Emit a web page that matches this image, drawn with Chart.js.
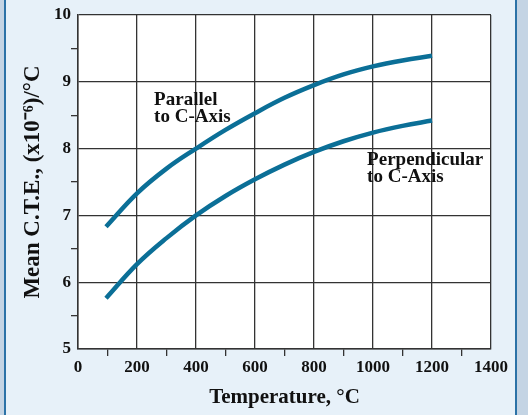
<!DOCTYPE html>
<html><head><meta charset="utf-8">
<script src="https://cdn.jsdelivr.net/npm/chart.js@4"></script>
<style>
html,body{margin:0;padding:0;width:528px;height:415px;overflow:hidden;background:#c4d4e4;}
#frame{position:absolute;left:4px;top:0;width:509px;height:415px;background:#e7f1f9;border-left:2px solid #2b72a7;border-right:2px solid #2b72a7;}
canvas{position:absolute;left:0;top:0;}
</style></head><body>
<div id="frame"></div>
<canvas id="c" width="528" height="415"></canvas>
<script>
// Data
const temperatures = [95, 200, 300, 400, 500, 600, 700, 800, 900, 1000, 1100, 1200];
const parallelCTE = [6.83, 7.33, 7.70, 8.00, 8.28, 8.53, 8.76, 8.95, 9.11, 9.23, 9.32, 9.39];
const perpendicularCTE = [5.76, 6.27, 6.66, 7.00, 7.29, 7.54, 7.76, 7.95, 8.11, 8.24, 8.34, 8.42];
const xTickLabels = [0, 200, 400, 600, 800, 1000, 1200, 1400];
const yTickLabels = [5, 6, 7, 8, 9, 10];
const seriesNames = ['Parallel to C-Axis', 'Perpendicular to C-Axis'];

const lineColor = '#0b6f97';
const gridColor = '#333333';
const serif = '"Liberation Serif", "Times New Roman", serif';

function pts(xs, ys) { return xs.map((x, i) => ({x: x, y: ys[i]})); }

const plotBg = {
  id: 'plotBg',
  beforeDraw(chart) {
    const {ctx, chartArea: a} = chart;
    ctx.save();
    ctx.fillStyle = '#ffffff';
    ctx.fillRect(a.left, a.top, a.right - a.left, a.bottom - a.top);
    ctx.restore();
  }
};

const labelsPlugin = {
  id: 'curveLabels',
  afterDatasetsDraw(chart, args, opts) {
    const {ctx, scales: {x, y}} = chart;
    ctx.save();
    ctx.fillStyle = '#111111';
    ctx.font = opts.font;
    ctx.textAlign = 'left';
    ctx.textBaseline = 'alphabetic';
    opts.items.forEach(it => {
      const px = x.getPixelForValue(it.x);
      const py = y.getPixelForValue(it.y);
      it.lines.forEach((t, i) => ctx.fillText(t, px, py + i * opts.lineHeight));
    });
    ctx.restore();
  }
};

new Chart(document.getElementById('c'), {
  type: 'line',
  data: {
    datasets: [
      {label: seriesNames[0], data: pts(temperatures, parallelCTE)},
      {label: seriesNames[1], data: pts(temperatures, perpendicularCTE)}
    ]
  },
  options: {
    responsive: false,
    devicePixelRatio: 1,
    animation: false,
    layout: {padding: {left: 0, top: 15, right: 37, bottom: 0}},
    elements: {
      line: {borderColor: lineColor, borderWidth: 4.5, tension: 0.4, fill: false, borderCapStyle: 'butt'},
      point: {radius: 0}
    },
    plugins: {
      legend: {display: false},
      tooltip: {enabled: false},
      curveLabels: {
        font: 'bold 19px ' + serif,
        lineHeight: 17,
        items: [
          {lines: ['Parallel', 'to C-Axis'], x: 258, y: 8.65},
          {lines: ['Perpendicular', 'to C-Axis'], x: 980, y: 7.75}
        ]
      }
    },
    scales: {
      x: {
        type: 'linear', min: 0, max: 1400,
        afterFit(s) { s.height = 66; },
        ticks: {
          stepSize: 100, autoSkip: false, maxRotation: 0, padding: 1,
          color: '#111111', font: {family: serif, size: 17, weight: 'bold'},
          callback: v => xTickLabels.includes(v) ? String(v) : ''
        },
        grid: {
          color: c => (c.tick && xTickLabels.includes(c.tick.value)) ? gridColor : 'rgba(0,0,0,0)',
          tickColor: c => (c.tick && xTickLabels.includes(c.tick.value)) ? 'rgba(0,0,0,0)' : gridColor,
          lineWidth: 1.3, tickWidth: 1.3, tickLength: 7, drawTicks: true
        },
        border: {display: true, color: gridColor, width: 1.5},
        title: {display: true, text: 'Temperature, °C', color: '#111111', font: {family: serif, size: 21, weight: 'bold'}, padding: {top: 0, bottom: 5}}
      },
      y: {
        type: 'linear', min: 5, max: 10,
        afterFit(s) { s.width = 78; },
        ticks: {
          stepSize: 0.5, autoSkip: false, padding: 0,
          color: '#111111', font: {family: serif, size: 17, weight: 'bold'},
          callback: v => yTickLabels.includes(v) ? String(v) : ''
        },
        grid: {
          color: c => (c.tick && yTickLabels.includes(c.tick.value)) ? gridColor : 'rgba(0,0,0,0)',
          tickColor: c => (c.tick && yTickLabels.includes(c.tick.value)) ? 'rgba(0,0,0,0)' : gridColor,
          lineWidth: 1.3, tickWidth: 1.3, tickLength: 7, drawTicks: true
        },
        border: {display: true, color: gridColor, width: 1.5},
        title: {display: true, text: 'Mean C.T.E., (x10⁻⁶)/°C', color: '#111111', font: {family: serif, size: 23, weight: 'bold'}, padding: {top: 19, bottom: 0}}
      }
    }
  },
  plugins: [plotBg, labelsPlugin]
});
</script>
</body></html>
